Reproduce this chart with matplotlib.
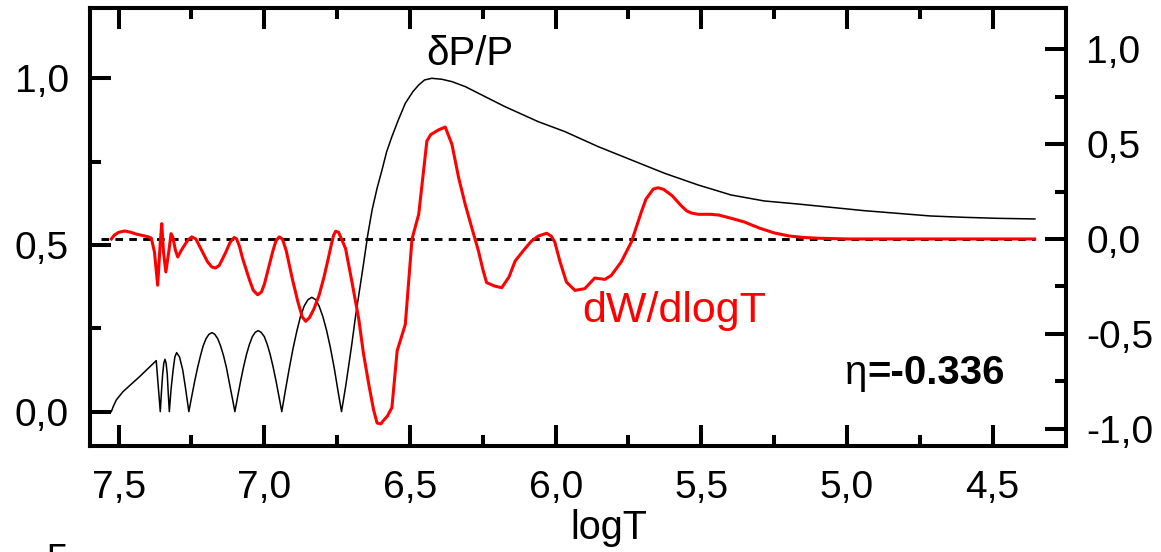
import matplotlib
matplotlib.use("Agg")
import matplotlib.pyplot as plt
from matplotlib.ticker import FixedLocator, FuncFormatter

# Pressure perturbation amplitude dP/P (left axis)
logT_dp = [7.525, 7.520, 7.515, 7.508, 7.485, 7.428, 7.371,
           7.357, 7.353, 7.349, 7.345, 7.341, 7.337, 7.333, 7.330, 7.326,
           7.320, 7.313, 7.307, 7.301, 7.291, 7.280, 7.270, 7.259,
           7.249, 7.239, 7.229, 7.219, 7.210, 7.200, 7.190, 7.180,
           7.170, 7.160, 7.150, 7.140, 7.130, 7.121, 7.111, 7.101,
           7.091, 7.081, 7.071, 7.061, 7.051, 7.041, 7.031, 7.021,
           7.011, 7.000, 6.990, 6.980, 6.970, 6.960, 6.950, 6.940,
           6.927, 6.914, 6.901, 6.888, 6.876, 6.863, 6.850, 6.837,
           6.824, 6.812, 6.799, 6.786, 6.773, 6.760, 6.748, 6.735,
           6.720, 6.700, 6.687, 6.660, 6.645, 6.630, 6.613, 6.596, 6.580,
           6.562, 6.540, 6.516, 6.490, 6.470, 6.450, 6.425, 6.390, 6.356,
           6.310, 6.265, 6.174, 6.060, 5.968, 5.854, 5.740, 5.626, 5.511,
           5.398, 5.284, 5.170, 5.056, 4.942, 4.828, 4.714, 4.600, 4.486, 4.355]
dp_over_p = [0.000, 0.012, 0.022, 0.035, 0.060, 0.105, 0.153,
             0.000, 0.060, 0.111, 0.145, 0.157, 0.145, 0.111, 0.060, 0.000,
             0.068, 0.125, 0.164, 0.177, 0.164, 0.125, 0.068, 0.000,
             0.046, 0.091, 0.132, 0.168, 0.197, 0.219, 0.232, 0.237,
             0.232, 0.219, 0.197, 0.168, 0.132, 0.091, 0.046, 0.000,
             0.047, 0.093, 0.135, 0.172, 0.202, 0.225, 0.238, 0.243,
             0.238, 0.225, 0.202, 0.172, 0.135, 0.093, 0.047, 0.000,
             0.067, 0.131, 0.191, 0.243, 0.285, 0.317, 0.336, 0.343,
             0.336, 0.317, 0.285, 0.243, 0.191, 0.131, 0.067, 0.000,
             0.080, 0.200, 0.285, 0.440, 0.530, 0.605, 0.670, 0.725, 0.780,
             0.825, 0.875, 0.925, 0.960, 0.980, 0.995, 1.000, 0.997, 0.990,
             0.975, 0.955, 0.915, 0.870, 0.840, 0.795, 0.755, 0.715, 0.680,
             0.650, 0.632, 0.623, 0.613, 0.603, 0.595, 0.587, 0.583, 0.580, 0.578]

# Differential work dW/dlogT (right axis)
logT_dw = [7.525, 7.515, 7.500, 7.479, 7.460, 7.440, 7.417, 7.400, 7.388,
           7.377, 7.366, 7.357, 7.352, 7.346, 7.338, 7.328, 7.320, 7.314, 7.305,
           7.297, 7.285, 7.274, 7.262, 7.249, 7.235, 7.225, 7.212, 7.195, 7.180,
           7.168, 7.155, 7.145, 7.132, 7.118, 7.110, 7.103, 7.095, 7.085, 7.075,
           7.063, 7.050, 7.038, 7.023, 7.010, 7.000, 6.985, 6.970, 6.960, 6.949,
           6.938, 6.925, 6.904, 6.885, 6.870, 6.858, 6.845, 6.830, 6.812, 6.795,
           6.780, 6.770, 6.762, 6.755, 6.745, 6.735, 6.721, 6.700, 6.676, 6.660,
           6.641, 6.625, 6.613, 6.600, 6.590, 6.578, 6.562, 6.544, 6.516, 6.493,
           6.470, 6.442, 6.429, 6.402, 6.379, 6.356, 6.333, 6.310, 6.288, 6.265,
           6.250, 6.237, 6.210, 6.185, 6.160, 6.139, 6.110, 6.083, 6.060, 6.031,
           6.015, 6.003, 5.985, 5.963, 5.934, 5.900, 5.866, 5.831, 5.809, 5.775,
           5.740, 5.706, 5.690, 5.665, 5.649, 5.630, 5.600, 5.569, 5.550, 5.535,
           5.510, 5.467, 5.440, 5.400, 5.353, 5.300, 5.250, 5.200, 5.150, 5.100,
           5.000, 4.828, 4.486, 4.356]
dw_dlogt = [0.000, 0.020, 0.035, 0.042, 0.036, 0.026, 0.018, 0.012, 0.005,
            -0.069, -0.244, -0.016, 0.081, -0.069, -0.174, -0.069, 0.028, 0.010, -0.060,
            -0.095, -0.060, -0.033, -0.005, 0.011, 0.000, -0.030, -0.069, -0.120, -0.148,
            -0.153, -0.140, -0.110, -0.069, -0.020, -0.003, 0.008, 0.000, -0.040, -0.100,
            -0.157, -0.220, -0.270, -0.294, -0.280, -0.240, -0.150, -0.060, -0.010, 0.011,
            0.000, -0.060, -0.209, -0.330, -0.410, -0.434, -0.415, -0.370, -0.297, -0.200,
            -0.100, -0.030, 0.020, 0.041, 0.035, 0.000, -0.051, -0.220, -0.420, -0.600,
            -0.770, -0.900, -0.970, -0.975, -0.955, -0.935, -0.889, -0.590, -0.450, 0.000,
            0.130, 0.516, 0.550, 0.575, 0.590, 0.499, 0.323, 0.180, 0.060, -0.063,
            -0.160, -0.230, -0.248, -0.257, -0.200, -0.116, -0.060, -0.011, 0.015, 0.030,
            0.015, -0.016, -0.120, -0.227, -0.271, -0.262, -0.206, -0.213, -0.192, -0.121,
            -0.016, 0.142, 0.210, 0.263, 0.270, 0.262, 0.228, 0.175, 0.148, 0.137,
            0.130, 0.130, 0.126, 0.110, 0.090, 0.057, 0.032, 0.016, 0.008, 0.004,
            0.000, 0.000, 0.000, 0.000]

x_major = [7.5, 7.0, 6.5, 6.0, 5.5, 5.0, 4.5]
x_minor = [7.25, 6.75, 6.25, 5.75, 5.25, 4.75]
yl_major = [0.0, 0.5, 1.0]
yl_minor = [0.25, 0.75]
yr_major = [-1.0, -0.5, 0.0, 0.5, 1.0]
yr_minor = [-0.75, -0.25, 0.25, 0.75]
zero_line_span = [7.56, 4.356]
eta_value = -0.336

plt.rcParams["font.family"] = ["Liberation Sans", "DejaVu Sans"]
plt.rcParams["lines.scale_dashes"] = False

fig = plt.figure(figsize=(11.61, 5.52), dpi=100)
ax = fig.add_axes([89.5 / 1161, 1 - 446.3 / 552, 976 / 1161, 438 / 552])
ax2 = ax.twinx()

ax.plot(logT_dp, dp_over_p, color="black", lw=1.1, solid_joinstyle="round", zorder=3)
ax2.hlines(0, zero_line_span[0], zero_line_span[1], colors="black",
           linestyles=(0, (5.5, 4.5)), lw=2.1, zorder=2)
ax2.plot(logT_dw, dw_dlogt, color="#ff0000", lw=2.2, solid_joinstyle="round", zorder=4)

ax.set_xlim(7.60, 4.25)
ax.set_ylim(-0.104, 1.21)
ax2.set_ylim(-1.093, 1.216)


def comma(v, pos=None):
    return f"{v:.1f}".replace(".", ",")


fmt = FuncFormatter(comma)
ax.xaxis.set_major_locator(FixedLocator(x_major))
ax.xaxis.set_minor_locator(FixedLocator(x_minor))
ax.xaxis.set_major_formatter(fmt)
ax.yaxis.set_major_locator(FixedLocator(yl_major))
ax.yaxis.set_minor_locator(FixedLocator(yl_minor))
ax.yaxis.set_major_formatter(fmt)
ax2.yaxis.set_major_locator(FixedLocator(yr_major))
ax2.yaxis.set_minor_locator(FixedLocator(yr_minor))
ax2.yaxis.set_major_formatter(fmt)

ax.tick_params(axis="both", which="major", direction="in", length=15, width=2.9,
               labelsize=28, top=True, right=False)
ax.tick_params(axis="both", which="minor", direction="in", length=8, width=2.9,
               top=True, right=False)
ax.tick_params(axis="x", which="major", pad=17)
ax.tick_params(axis="y", which="major", pad=15)
ax2.tick_params(axis="y", which="major", direction="in", length=15, width=2.9,
                labelsize=28, pad=15)
ax2.tick_params(axis="y", which="minor", direction="in", length=8, width=2.9)

for a in (ax, ax2):
    for s in a.spines.values():
        s.set_linewidth(2.9)

ax.set_xlabel("logT", fontsize=28.5)
ax.xaxis.set_label_coords(0.532, -0.143)

ax.text(6.295, 1.04, "δP/P", fontsize=29, ha="center", va="baseline")
ax2.text(5.592, -0.437, "dW/dlogT", fontsize=31, color="#ff0000",
         ha="center", va="baseline")
ax2.text(4.930, -0.766, "η", fontsize=29, ha="right", va="baseline")
ax2.text(4.930, -0.766, f"={eta_value:.3f}", fontsize=29, fontweight="bold",
         ha="left", va="baseline")

# top of the next panel's tick label peeking in at the bottom edge
fig.text(46 / 1161, 1 - 543 / 552, "5", fontsize=28, ha="left", va="top")

fig.savefig("out.png", dpi=100)
